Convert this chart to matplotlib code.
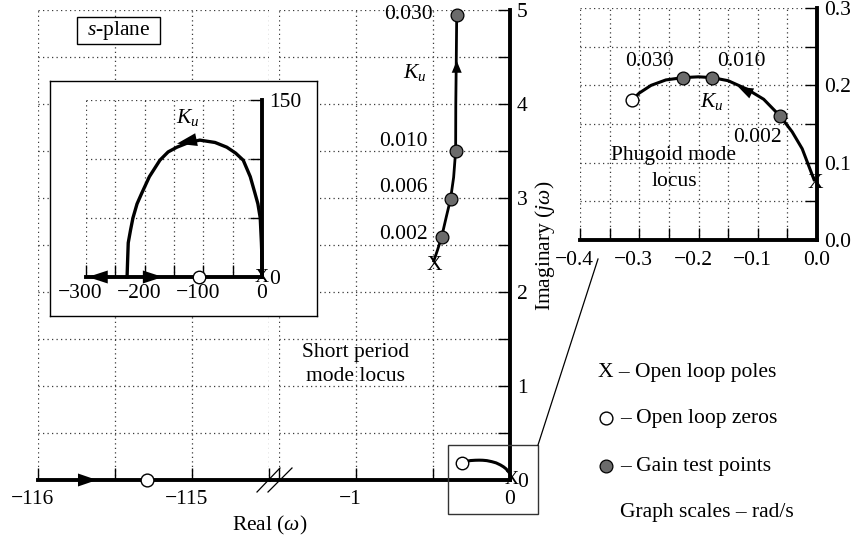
import matplotlib
matplotlib.use('Agg')
import matplotlib.pyplot as plt
from matplotlib.patches import Rectangle
from matplotlib.transforms import ScaledTranslation

plt.rcParams['font.family'] = ['Liberation Serif', 'DejaVu Serif']
plt.rcParams['mathtext.fontset'] = 'custom'
plt.rcParams['mathtext.rm'] = 'Liberation Serif'
plt.rcParams['mathtext.it'] = 'Liberation Serif:italic'
plt.rcParams['axes.unicode_minus'] = True

# ---------------- data (rad/s) ----------------
# Short period mode locus (upper branch)
sp_re = [-0.495, -0.470, -0.444, -0.415, -0.386, -0.366, -0.353, -0.352, -0.349, -0.346]
sp_im = [2.33, 2.45, 2.585, 2.79, 2.99, 3.22, 3.50, 4.00, 4.45, 4.95]
sp_pole = (-0.49, 2.28)
sp_gain_labels = ['0.002', '0.006', '0.010', '0.030']
sp_gain_re = [-0.444, -0.386, -0.353, -0.346]
sp_gain_im = [2.585, 2.99, 3.50, 4.95]
sp_label_re = [-0.536, -0.536, -0.536, -0.503]
sp_label_im = [2.61, 3.11, 3.60, 4.95]
sp_zero_re = -115.29
sp_arrow = [(-0.346, 4.33), (-0.346, 4.46)]          # tail, tip
real_arrow = [(-115.74, 0.0), (-115.617, 0.0)]       # tail, tip

# Phugoid mode locus
ph_re = [-0.005, -0.025, -0.042, -0.062, -0.090, -0.118, -0.150, -0.177,
         -0.200, -0.226, -0.255, -0.280, -0.300, -0.312]
ph_im = [0.078, 0.118, 0.140, 0.160, 0.182, 0.195, 0.206, 0.210,
         0.211, 0.210, 0.207, 0.200, 0.190, 0.181]
ph_pole = (-0.003, 0.073)
ph_zero = (-0.312, 0.181)
ph_gain_labels = ['0.002', '0.010', '0.030']
ph_gain_re = [-0.062, -0.177, -0.226]
ph_gain_im = [0.160, 0.210, 0.210]
ph_arrow = [(-0.106, 0.188), (-0.133, 0.198)]

# Wide-scale inset locus
ws_re = [0, 0, -1, -3, -7, -12, -20, -32, -45, -60, -80, -106,
         -125, -145, -160, -174, -192, -205, -213, -220, -224, -228, -229, -230]
ws_im = [0, 15, 29, 50, 62, 71, 85, 99, 105, 110, 114, 116,
         114, 110, 106, 99, 85, 71, 62, 50, 40, 29, 15, 0]
ws_zero_re = -107
ws_arrows = [[(-111, 116.5), (-145, 113)],
             [(-262, 0), (-297, 0)],
             [(-196, 0), (-169, 0)]]

W, H = 860, 544
FS = 15.5
GRID = dict(color='#3a3a3a', linestyle=(0, (1, 2.6)), linewidth=0.9)
SPLW = 2.8
GRAY = '#6b6b6b'

fig = plt.figure(figsize=(W / 100, H / 100), dpi=100)
fig.patch.set_facecolor('white')


def px_axes(x0, x1, y0, y1):
    return fig.add_axes([x0 / W, 1 - y1 / H, (x1 - x0) / W, (y1 - y0) / H])


def shift_neg(labels):
    for lab in labels:
        if lab.get_text().startswith('\u2212'):
            lab.set_transform(lab.get_transform() +
                              ScaledTranslation(-5.5 / 100, 0, fig.dpi_scale_trans))


def arrowhead(ax, tail, tip, length_px, halfw_px):
    ms = 10
    hl = length_px / 1.389 / ms
    hw = halfw_px / 1.389 / ms
    ax.annotate('', xy=tip, xytext=tail,
                arrowprops=dict(arrowstyle=f'-|>,head_length={hl},head_width={hw}',
                                mutation_scale=ms, color='k', lw=0,
                                shrinkA=0, shrinkB=0), zorder=6,
                annotation_clip=False)


def base_style(ax):
    ax.set_facecolor('none')
    for s in ax.spines.values():
        s.set_visible(False)
    ax.tick_params(direction='in', length=9, width=1.0, labelsize=FS, color='k')
    ax.grid(True, which='both', **GRID)
    ax.set_axisbelow(True)


# ---------------- main plane: left part ----------------
axL = px_axes(38, 269, 10, 480)
base_style(axL)
axL.set_xlim(-116, -114.5)
axL.set_ylim(0, 5)
axL.spines['bottom'].set_visible(True)
axL.spines['bottom'].set_linewidth(SPLW)
axL.set_xticks([-116, -115.5, -115, -114.5])
axL.set_xticklabels(['\u2212116', '', '\u2212115', ''])
axL.set_yticks([0, 0.5, 1, 1.5, 2, 2.5, 3, 3.5, 4, 4.5, 5])
axL.tick_params(axis='y', length=0, labelleft=False)
axL.tick_params(axis='x', pad=7)
shift_neg(axL.get_xticklabels())
axL.plot([sp_zero_re], [0], 'o', ms=9.2, mfc='white', mec='k', mew=1.0,
         zorder=7, clip_on=False)
arrowhead(axL, real_arrow[0], real_arrow[1], 19, 6.5)

# ---------------- main plane: right part ----------------
axR = px_axes(279, 510, 10, 480)
base_style(axR)
axR.set_xlim(-1.5, 0)
axR.set_ylim(0, 5)
for s in ('bottom', 'right'):
    axR.spines[s].set_visible(True)
    axR.spines[s].set_linewidth(SPLW)
axR.yaxis.tick_right()
axR.set_xticks([-1.5, -1, -0.5, 0])
axR.set_xticklabels(['', '\u22121', '', '0'])
axR.set_yticks([0, 0.5, 1, 1.5, 2, 2.5, 3, 3.5, 4, 4.5, 5])
axR.set_yticklabels(['0', '', '1', '', '2', '', '3', '', '4', '', '5'])
axR.tick_params(axis='x', pad=7)
axR.tick_params(axis='y', pad=5)
shift_neg(axR.get_xticklabels())

axR.plot(sp_re, sp_im, color='k', lw=2.0, zorder=4, clip_on=False)
axR.plot(sp_gain_re, sp_gain_im, 'o', ms=9.2, mfc=GRAY, mec='k', mew=0.9,
         zorder=7, clip_on=False)
for lab, x, y in zip(sp_gain_labels, sp_label_re, sp_label_im):
    axR.text(x, y, lab, ha='right', va='center', fontsize=FS)
axR.text(sp_pole[0], sp_pole[1], 'X', ha='center', va='center', fontsize=FS)
axR.text(-0.62, 4.34, r'$K_u$', ha='center', va='center', fontsize=FS)
arrowhead(axR, sp_arrow[0], sp_arrow[1], 12, 5)
axR.plot(ph_re, ph_im, color='k', lw=2.2, zorder=4, clip_on=False)
axR.plot([ph_zero[0]], [ph_zero[1]], 'o', ms=9.0, mfc='white', mec='k', mew=1.0,
         zorder=7, clip_on=False)
axR.text(0.01, 0.0, 'X', ha='center', va='center', fontsize=FS - 1.5)
axR.text(-1.0, 1.36, 'Short period', ha='center', va='center', fontsize=FS)
axR.text(-1.0, 1.10, 'mode locus', ha='center', va='center', fontsize=FS)

# ---------------- left inset (wide scale) ----------------
box = px_axes(50, 317, 81, 316)
box.set_facecolor('white')
box.set_xticks([])
box.set_yticks([])
for s in box.spines.values():
    s.set_linewidth(1.0)

axI = px_axes(86, 262, 100, 277)
base_style(axI)
axI.set_xlim(-300, 0)
axI.set_ylim(0, 150)
for s in ('bottom', 'right'):
    axI.spines[s].set_visible(True)
    axI.spines[s].set_linewidth(SPLW)
axI.yaxis.tick_right()
axI.set_xticks([-300, -250, -200, -150, -100, -50, 0])
axI.set_xticklabels(['\u2212300', '', '\u2212200', '', '\u2212100', '', '0'])
axI.set_yticks([0, 50, 100, 150])
axI.set_yticklabels(['0', '', '', '150'])
axI.tick_params(axis='x', pad=5)
axI.tick_params(axis='y', pad=5)
shift_neg(axI.get_xticklabels())
axI.plot(ws_re, ws_im, color='k', lw=2.4, zorder=4, clip_on=False,
         solid_joinstyle='round')
axI.plot([ws_zero_re], [0], 'o', ms=9.0, mfc='white', mec='k', mew=1.0,
         zorder=7, clip_on=False)
axI.text(0, 0, 'X', ha='center', va='center', fontsize=FS - 1.5)
axI.text(-126, 135, r'$K_u$', ha='center', va='center', fontsize=FS)
for tail, tip in ws_arrows:
    arrowhead(axI, tail, tip, 20, 6.5)

# ---------------- right inset (phugoid) ----------------
axP = px_axes(580, 817, 8, 240)
base_style(axP)
axP.set_xlim(-0.4, 0)
axP.set_ylim(0, 0.3)
for s in ('bottom', 'right'):
    axP.spines[s].set_visible(True)
    axP.spines[s].set_linewidth(SPLW)
axP.yaxis.tick_right()
axP.set_xticks([-0.4, -0.35, -0.3, -0.25, -0.2, -0.15, -0.1, -0.05, 0])
axP.set_xticklabels(['\u22120.4', '', '\u22120.3', '', '\u22120.2', '', '\u22120.1', '', '0.0'])
axP.set_yticks([0, 0.05, 0.1, 0.15, 0.2, 0.25, 0.3])
axP.set_yticklabels(['0.0', '', '0.1', '', '0.2', '', '0.3'])
axP.tick_params(axis='x', pad=8)
axP.tick_params(axis='y', pad=5)
shift_neg(axP.get_xticklabels())
axP.plot(ph_re, ph_im, color='k', lw=2.2, zorder=4, clip_on=False)
axP.plot(ph_gain_re, ph_gain_im, 'o', ms=9.2, mfc=GRAY, mec='k', mew=0.9,
         zorder=7, clip_on=False)
axP.plot([ph_zero[0]], [ph_zero[1]], 'o', ms=9.2, mfc='white', mec='k', mew=1.0,
         zorder=7, clip_on=False)
axP.text(ph_pole[0], ph_pole[1], 'X', ha='center', va='center', fontsize=FS)
axP.text(-0.282, 0.231, '0.030', ha='center', va='center', fontsize=FS)
axP.text(-0.127, 0.231, '0.010', ha='center', va='center', fontsize=FS)
axP.text(-0.101, 0.132, '0.002', ha='center', va='center', fontsize=FS)
axP.text(-0.177, 0.179, r'$K_u$', ha='center', va='center', fontsize=FS)
axP.text(-0.243, 0.109, 'Phugoid mode', ha='center', va='center', fontsize=FS)
axP.text(-0.240, 0.076, 'locus', ha='center', va='center', fontsize=FS)
arrowhead(axP, ph_arrow[0], ph_arrow[1], 15, 5.5)

# ---------------- overlay (pixel space) ----------------
ov = fig.add_axes([0, 0, 1, 1])
ov.set_xlim(0, W)
ov.set_ylim(H, 0)
ov.axis('off')
ov.set_facecolor('none')
# s-plane label box
ov.add_patch(Rectangle((77, 17), 83, 27, fc='white', ec='k', lw=1.0, zorder=5))
ov.text(118.5, 31, r'$s$-plane', ha='center', va='center', fontsize=FS, zorder=6)
# zoom box and connector
ov.add_patch(Rectangle((448, 445), 90, 69, fc='none', ec='#333333', lw=1.0))
ov.plot([538, 598], [445, 259], color='k', lw=0.9)
# axis break
ov.plot([269, 279], [480, 480], color='k', lw=SPLW, solid_capstyle='butt')
ov.plot([257, 280], [492, 468], color='k', lw=0.9)
ov.plot([268, 292], [492, 468], color='k', lw=0.9)
# key
ov.text(598, 372, 'X \u2013 Open loop poles', ha='left', va='center', fontsize=FS)
ov.plot([606], [418], 'o', ms=9.2, mfc='white', mec='k', mew=1.0)
ov.text(620, 418, '\u2013 Open loop zeros', ha='left', va='center', fontsize=FS)
ov.plot([606], [466], 'o', ms=9.2, mfc=GRAY, mec='k', mew=0.9)
ov.text(620, 466, '\u2013 Gain test points', ha='left', va='center', fontsize=FS)
ov.text(620, 512, 'Graph scales \u2013 rad/s', ha='left', va='center', fontsize=FS)
# axis titles
ov.text(270, 525, r'Real ($\omega$)', ha='center', va='center', fontsize=FS)
ov.text(545, 246, r'Imaginary ($j\omega$)', ha='center', va='center',
        rotation=90, fontsize=FS)

fig.savefig('out.png', dpi=100, facecolor='white')
